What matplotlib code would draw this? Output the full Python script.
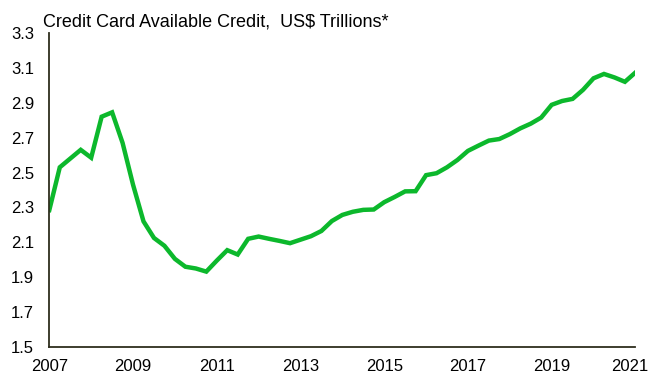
import numpy as np
import matplotlib.pyplot as plt

plt.rcParams['font.family'] = ['Liberation Sans', 'DejaVu Sans']

# quarterly, 2007 Q1 .. 2021 Q1
years = np.arange(2007, 2021.01, 0.25)
credit = [2.285, 2.53, 2.58, 2.63, 2.585, 2.82, 2.845, 2.67,
          2.43, 2.22, 2.125, 2.08, 2.005, 1.96, 1.95, 1.932,
          1.995, 2.055, 2.03, 2.12, 2.133, 2.12, 2.108, 2.095,
          2.115, 2.135, 2.165, 2.222, 2.257, 2.275, 2.286, 2.288,
          2.33, 2.36, 2.392, 2.393, 2.485, 2.496, 2.53, 2.572,
          2.624, 2.654, 2.683, 2.692, 2.72, 2.753, 2.78, 2.815,
          2.888, 2.91, 2.922, 2.974, 3.04, 3.065, 3.045, 3.02,
          3.073]
xticks = [2007, 2009, 2011, 2013, 2015, 2017, 2019, 2021]
yticks = [1.5, 1.7, 1.9, 2.1, 2.3, 2.5, 2.7, 2.9, 3.1, 3.3]

fig = plt.figure(figsize=(6.49, 3.77), dpi=100)
ax = fig.add_axes([0.076, 0.0796, 0.903, 0.833])
ax.plot(years, credit, color='#0cb82c', lw=3.2, solid_joinstyle='miter')

ax.set_xlim(2007, 2021)
ax.set_ylim(1.5, 3.3)
ax.set_xticks(xticks)
# last label is nudged left so it fits inside the figure
ax.set_xticklabels([str(y) for y in xticks[:-1]] + [''])
ax.annotate(str(xticks[-1]), xy=(xticks[-1], 1.5), xytext=(-4, -9),
            textcoords='offset points', ha='center', va='top', fontsize=12,
            annotation_clip=False)
ax.set_yticks(yticks)
ax.set_yticklabels(['%.1f' % v for v in yticks])
ax.tick_params(length=0, labelsize=12, pad=11)
ax.tick_params(axis='x', pad=9)
for s in ['top', 'right']:
    ax.spines[s].set_visible(False)
for s in ['left', 'bottom']:
    ax.spines[s].set_color('#2e2e1e')
    ax.spines[s].set_linewidth(1.3)

fig.text(0.066, 0.931, 'Credit Card Available Credit,  US$ Trillions*',
         fontsize=13, va='baseline', ha='left')

fig.savefig('out.png', dpi=100)
